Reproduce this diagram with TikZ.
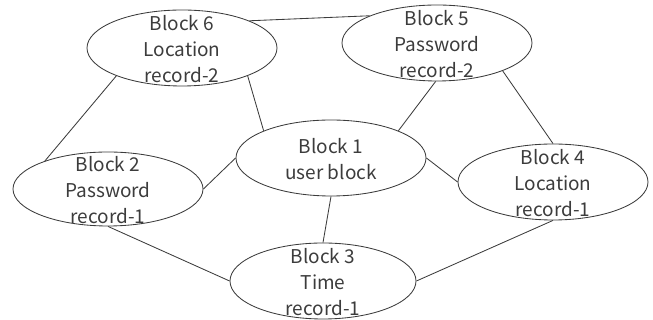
\documentclass[tikz,border=0pt]{standalone}
\usepackage{fontspec}
\setmainfont{Noto Sans CJK SC}
\usetikzlibrary{shapes.geometric}
\definecolor{ink}{HTML}{3C3C3C}
\tikzset{
  blk/.style={ellipse, draw=ink, line width=0.85pt, inner sep=0pt,
    minimum width=190pt, minimum height=76pt},
  txt/.style={align=center, text=ink, inner sep=0pt,
    font=\fontsize{19}{26}\selectfont},
  link/.style={draw=ink, line width=0.85pt}
}
\begin{document}
\begin{tikzpicture}[x=1pt,y=1pt]
\useasboundingbox (0,0) rectangle (653,320);
% blocks
\node[blk] (b6) at (182,272) {};
\node[blk] (b5) at (437,277) {};
\node[blk] (b1) at (331,162) {};
\node[blk, minimum height=74pt] (b2) at (108,131) {};
\node[blk] (b4) at (553,138) {};
\node[blk, minimum width=186pt] (b3) at (323,39) {};
% labels
\node[txt] (t6) at ([yshift=-1pt]b6) {Block 6\\Location\\record-2};
\node[txt] (t5) at ([yshift=-1pt]b5) {Block 5\\Password\\record-2};
\node[txt] (t1) at ([yshift=-1pt]b1) {Block 1\\user block};
\node[txt] (t2) at ([yshift=-1pt]b2) {Block 2\\Password\\record-1};
\node[txt] (t4) at ([yshift=-1pt]b4) {Block 4\\Location\\record-1};
\node[txt] (t3) at ([yshift=-1pt]b3) {Block 3\\Time\\record-1};
% links
\draw[link] (b6.22) -- (b5.158);
\draw[link] (b6.203) -- (b2.156);
\draw[link] (b6.337) -- (b1.158);
\draw[link] (b5.268) -- (b1.22);
\draw[link] (b5.337) -- (b4.90);
\draw[link] (b2.0) -- (b1.180);
\draw[link] (b1.0) -- (b4.180);
\draw[link] (b1.270) -- (b3.90);
\draw[link] (b2.270) -- (b3.180);
\draw[link] (b3.0) -- (b4.270);
\end{tikzpicture}
\end{document}
